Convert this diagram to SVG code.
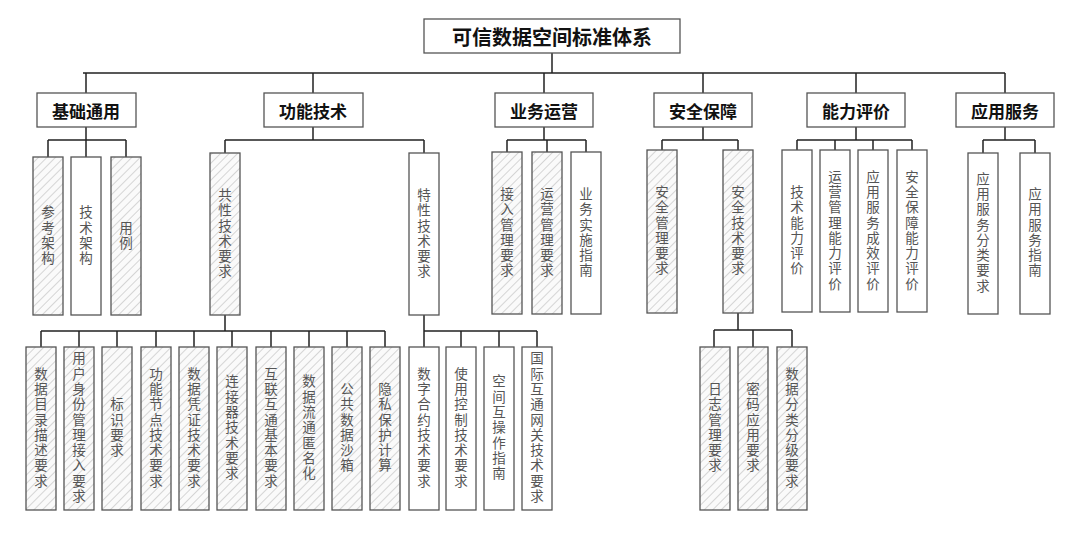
<svg xmlns="http://www.w3.org/2000/svg" width="1080" height="551" viewBox="0 0 1080 551">
<style>
.box{fill:#fff;stroke:#555;stroke-width:1.3}
.h{fill:url(#hatch);stroke:#555;stroke-width:1.3}
.hd{font-family:"Noto Sans CJK SC",sans-serif;font-weight:bold;font-size:17px;text-anchor:middle;dominant-baseline:central;fill:#111}
.rt{font-size:20px}
.lf{font-family:"Noto Sans CJK SC",sans-serif;font-size:13.5px;fill:#555;writing-mode:vertical-rl;text-anchor:middle;letter-spacing:1.8px}
.c{fill:none;stroke:#222;stroke-width:1.5}
</style>
<defs>
<pattern id="hatch" width="6" height="6" patternUnits="userSpaceOnUse" patternTransform="rotate(45)">
<rect width="6" height="6" fill="#fafafa"/>
<line x1="0" y1="0" x2="0" y2="6" stroke="#ccc" stroke-width="1.6"/>
</pattern>
</defs>
<g id="connectors">
<path class="c" d="M552 53V73M83 73H1005M86 73V93M313 73V93M544 73V93M703 73V93M856 73V93M1005 73V93"/>
<path class="c" d="M86 127V140M48 140H126M48 140V157M86 140V157M126 140V157"/>
<path class="c" d="M313 127V140M225 140H424M225 140V153M424 140V153"/>
<path class="c" d="M544 127V140M507 140H586M507 140V152M547 140V152M586 140V152"/>
<path class="c" d="M703 127V140M662 140H738M662 140V150M738 140V150"/>
<path class="c" d="M856 127V140M797 140H912M797 140V150M835 140V150M873 140V150M912 140V150"/>
<path class="c" d="M1005 127V140M983 140H1035M983 140V153M1035 140V153"/>
<path class="c" d="M225 315V331M41 331H385M41 331V347M79 331V347M117 331V347M156 331V347M194 331V347M232 331V347M271 331V347M309 331V347M347 331V347M385 331V347"/>
<path class="c" d="M424 315V331H537M461 331V347M499 331V347M537 331V347M424 331V347"/>
<path class="c" d="M738 313V330M714 330H792M714 330V347M753 330V347M792 330V347"/>
</g>
<g id="root"><rect class="box" x="424" y="19" width="256" height="34"/><text class="hd rt" x="552" y="36">可信数据空间标准体系</text></g>
<g id="l1-1"><rect class="box" x="37" y="93" width="99" height="34"/><text class="hd" x="86" y="110">基础通用</text></g>
<g id="l1-2"><rect class="box" x="264" y="93" width="99" height="34"/><text class="hd" x="313" y="110">功能技术</text></g>
<g id="l1-3"><rect class="box" x="495" y="93" width="98" height="34"/><text class="hd" x="544" y="110">业务运营</text></g>
<g id="l1-4"><rect class="box" x="654" y="93" width="98" height="34"/><text class="hd" x="703" y="110">安全保障</text></g>
<g id="l1-5"><rect class="box" x="807" y="93" width="98" height="34"/><text class="hd" x="856" y="110">能力评价</text></g>
<g id="l1-6"><rect class="box" x="956" y="93" width="98" height="34"/><text class="hd" x="1005" y="110">应用服务</text></g>

<g id="n-ckjg"><rect class="h" x="33" y="157" width="30" height="158"/><text class="lf" x="48" y="236">参考架构</text></g>
<g id="n-jsjg"><rect class="box" x="71" y="157" width="30" height="158"/><text class="lf" x="86" y="236">技术架构</text></g>
<g id="n-yl"><rect class="h" x="111" y="157" width="30" height="158"/><text class="lf" x="126" y="236">用例</text></g>
<g id="n-gx"><rect class="h" x="210" y="153" width="30" height="162"/><text class="lf" x="225" y="234">共性技术要求</text></g>
<g id="n-tx"><rect class="box" x="409" y="153" width="30" height="162"/><text class="lf" x="424" y="234">特性技术要求</text></g>
<g id="n-jr"><rect class="h" x="492" y="152" width="30" height="162"/><text class="lf" x="507" y="233">接入管理要求</text></g>
<g id="n-yy"><rect class="h" x="532" y="152" width="30" height="162"/><text class="lf" x="547" y="233">运营管理要求</text></g>
<g id="n-ywss"><rect class="box" x="571" y="152" width="30" height="162"/><text class="lf" x="586" y="233">业务实施指南</text></g>
<g id="n-aqgl"><rect class="h" x="647" y="150" width="30" height="163"/><text class="lf" x="662" y="231">安全管理要求</text></g>
<g id="n-aqjs"><rect class="h" x="723" y="150" width="30" height="163"/><text class="lf" x="738" y="231">安全技术要求</text></g>
<g id="n-jsnl"><rect class="box" x="782" y="150" width="30" height="162"/><text class="lf" x="797" y="231">技术能力评价</text></g>
<g id="n-yygl"><rect class="box" x="820" y="150" width="30" height="162"/><text class="lf" x="835" y="231">运营管理能力评价</text></g>
<g id="n-yyfw"><rect class="box" x="858" y="150" width="30" height="162"/><text class="lf" x="873" y="231">应用服务成效评价</text></g>
<g id="n-aqbz"><rect class="box" x="897" y="150" width="30" height="162"/><text class="lf" x="912" y="231">安全保障能力评价</text></g>
<g id="n-fwfl"><rect class="box" x="968" y="153" width="30" height="161"/><text class="lf" x="983" y="233">应用服务分类要求</text></g>
<g id="n-fwzn"><rect class="box" x="1020" y="153" width="30" height="161"/><text class="lf" x="1035" y="233">应用服务指南</text></g>

<g id="b1"><rect class="h" x="26" y="347" width="30" height="163"/><text class="lf" x="41" y="428">数据目录描述要求</text></g>
<g id="b2"><rect class="h" x="64" y="347" width="30" height="163"/><text class="lf" x="79" y="428">用户身份管理接入要求</text></g>
<g id="b3"><rect class="h" x="102" y="347" width="30" height="163"/><text class="lf" x="117" y="428">标识要求</text></g>
<g id="b4"><rect class="h" x="141" y="347" width="30" height="163"/><text class="lf" x="156" y="428">功能节点技术要求</text></g>
<g id="b5"><rect class="h" x="179" y="347" width="30" height="163"/><text class="lf" x="194" y="428">数据凭证技术要求</text></g>
<g id="b6"><rect class="h" x="217" y="347" width="30" height="163"/><text class="lf" x="232" y="428">连接器技术要求</text></g>
<g id="b7"><rect class="h" x="256" y="347" width="30" height="163"/><text class="lf" x="271" y="428">互联互通基本要求</text></g>
<g id="b8"><rect class="h" x="294" y="347" width="30" height="163"/><text class="lf" x="309" y="428">数据流通匿名化</text></g>
<g id="b9"><rect class="h" x="332" y="347" width="30" height="163"/><text class="lf" x="347" y="428">公共数据沙箱</text></g>
<g id="b10"><rect class="h" x="370" y="347" width="30" height="163"/><text class="lf" x="385" y="428">隐私保护计算</text></g>
<g id="b11"><rect class="box" x="409" y="347" width="30" height="163"/><text class="lf" x="424" y="428">数字合约技术要求</text></g>
<g id="b12"><rect class="box" x="446" y="347" width="30" height="163"/><text class="lf" x="461" y="428">使用控制技术要求</text></g>
<g id="b13"><rect class="box" x="484" y="347" width="30" height="163"/><text class="lf" x="499" y="428">空间互操作指南</text></g>
<g id="b14"><rect class="box" x="522" y="347" width="30" height="163"/><text class="lf" x="537" y="428">国际互通网关技术要求</text></g>
<g id="b15"><rect class="h" x="700" y="347" width="30" height="163"/><text class="lf" x="715" y="428">日志管理要求</text></g>
<g id="b16"><rect class="h" x="738" y="347" width="30" height="163"/><text class="lf" x="753" y="428">密码应用要求</text></g>
<g id="b17"><rect class="h" x="777" y="347" width="30" height="163"/><text class="lf" x="792" y="428">数据分类分级要求</text></g>
</svg>
